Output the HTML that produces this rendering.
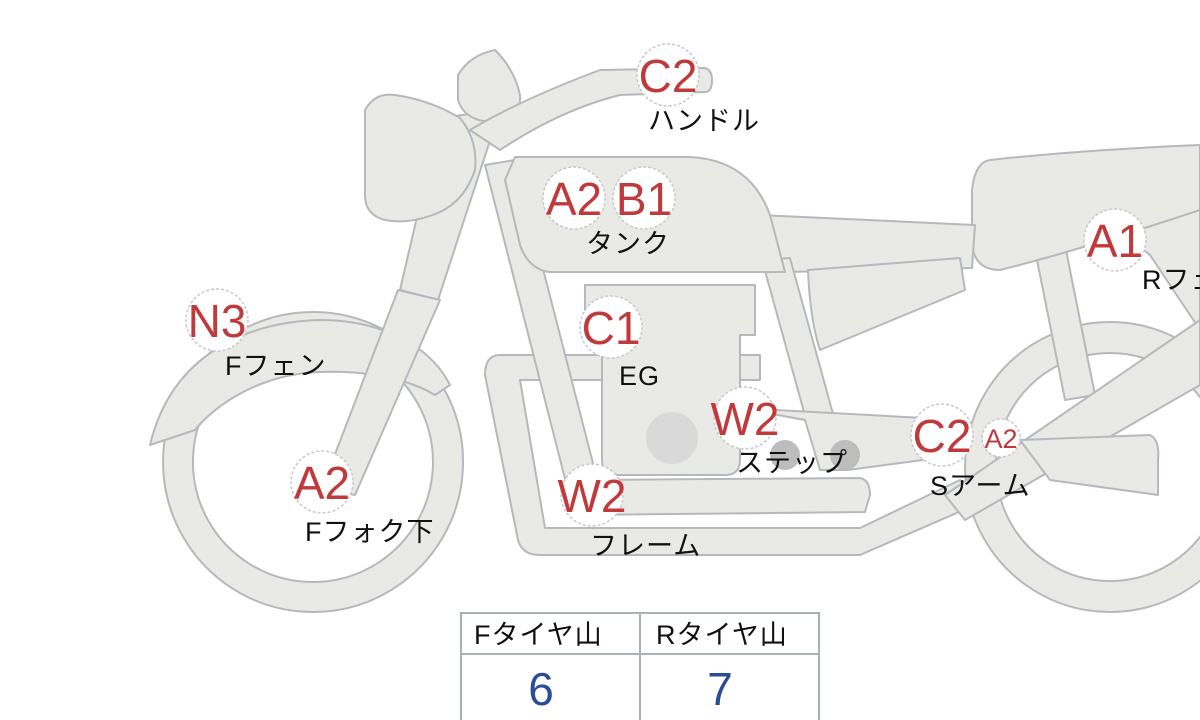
<!DOCTYPE html>
<html><head><meta charset="utf-8"><style>
html,body{margin:0;padding:0;background:#fff}
svg{display:block}
.s{fill:#e9e9e6;stroke:#b5b9bd;stroke-width:2;stroke-linejoin:round}
.c{fill:#fff;stroke:#c8c8c8;stroke-width:1.5;stroke-dasharray:3 2}
.r{fill:#c0393b;font-family:"Liberation Sans",sans-serif;font-size:46px;text-anchor:middle}
.k{fill:#111;font-family:"Liberation Sans","Noto Sans CJK JP",sans-serif;font-size:27px;letter-spacing:1px}
</style></head><body>
<svg width="1200" height="720" viewBox="0 0 1200 720">
<path class="s" fill-rule="evenodd" d="M1110,322a145,145 0 1,0 0.1,0zM1110,353a114,114 0 1,1 -0.1,0z"/>
<path class="s" fill-rule="evenodd" d="M313,312a150,150 0 1,0 0.1,0zM313,342a120,120 0 1,1 -0.1,0z"/>
<path class="s" d="M150,445 C170,360 240,322 320,320 C380,320 430,345 450,385 L435,395 C410,380 370,370 320,372 C260,374 215,405 195,430 Z"/>
<path class="s" d="M1035,250 L1065,245 L1095,395 L1065,400 Z"/>
<path class="s" d="M1100,215 L1200,185 L1200,330 L1150,255 Z"/>
<path class="s" d="M990,160 Q1080,150 1200,145 L1200,210 Q1080,250 1000,270 Q975,270 972,245 L972,190 Q975,162 990,160 Z"/>
<path class="s" d="M760,215 L975,225 L972,268 L785,272 Z"/>
<path class="s" d="M808,270 L960,258 L965,290 L820,350 Q810,320 808,270 Z"/>
<path class="s" d="M500,355 L760,355 L760,380 L520,380 L545,528 L860,528 L960,480 L975,505 L860,555 L540,555 Q522,555 518,540 L485,375 Q485,355 500,355 Z"/>
<path class="s" d="M575,480 L860,478 Q870,480 870,495 L865,512 L580,515 Z"/>
<path class="s" d="M762,260 L790,258 L848,468 L820,470 Z"/>
<path class="s" d="M740,408 L960,420 L960,455 L848,470 L820,470 L805,420 Z"/>
<path class="s" d="M945,495 L1200,320 L1200,385 L965,520 Z"/>
<path class="s" d="M1020,440 L1150,435 Q1160,440 1158,460 L1158,495 L1050,480 Z"/>
<path class="s" d="M585,285 L755,285 L755,335 L740,335 L740,460 Q740,475 725,475 L618,475 Q602,475 602,460 L602,335 L585,335 Z"/>
<circle cx="672" cy="438" r="26" fill="#d9d9d9"/>
<circle cx="785" cy="455" r="15" fill="#bdbdbd"/>
<circle cx="845" cy="455" r="15" fill="#bdbdbd"/>
<path class="s" d="M485,165 L515,160 L605,510 L575,518 Z"/>
<path class="s" d="M515,157 L690,157 Q750,160 770,215 L785,272 L548,272 Q528,268 520,245 L505,180 Z"/>
<path class="s" d="M440,118 L500,110 L438,300 L400,290 Z"/>
<path class="s" d="M398,290 L440,300 L355,495 L322,488 Z"/>
<path class="s" d="M365,110 Q375,92 395,95 Q430,100 460,118 Q478,140 475,170 Q465,200 440,212 Q410,225 385,220 Q365,215 365,195 Z"/>
<path class="s" d="M458,75 Q470,55 495,50 Q515,70 520,95 Q522,118 495,122 Q465,122 458,100 Z"/>
<path class="s" d="M470,130 Q520,100 600,70 L705,68 Q712,70 712,80 Q712,92 705,92 L620,95 Q560,110 500,150 Z"/>
<circle class="c" cx="668" cy="75" r="31"/><text class="r" x="668" y="92">C2</text>
<text class="k" x="648" y="130">ハンドル</text>
<circle class="c" cx="574" cy="198" r="31"/><text class="r" x="574" y="215">A2</text>
<circle class="c" cx="644" cy="198" r="31"/><text class="r" x="644" y="215">B1</text>
<text class="k" x="586" y="253">タンク</text>
<circle class="c" cx="217" cy="320" r="31"/><text class="r" x="217" y="337">N3</text>
<text class="k" x="225" y="375">Fフェン</text>
<circle class="c" cx="611" cy="327" r="31"/><text class="r" x="611" y="344">C1</text>
<text class="k" x="619" y="385">EG</text>
<circle class="c" cx="745" cy="418" r="31"/><text class="r" x="745" y="435">W2</text>
<text class="k" x="736" y="472">ステップ</text>
<circle class="c" cx="942" cy="435" r="31"/><text class="r" x="942" y="452">C2</text>
<circle class="c" cx="1001" cy="438" r="19"/><text class="r" x="1001" y="448" style="font-size:27px">A2</text>
<text class="k" x="930" y="495">Sアーム</text>
<circle class="c" cx="322" cy="482" r="31"/><text class="r" x="322" y="499">A2</text>
<text class="k" x="305" y="541">Fフォク下</text>
<circle class="c" cx="592" cy="495" r="31"/><text class="r" x="592" y="512">W2</text>
<text class="k" x="590" y="555">フレーム</text>
<circle class="c" cx="1115" cy="240" r="31"/><text class="r" x="1115" y="257">A1</text>
<text class="k" x="1142" y="289">Rフェン</text>
<rect x="461" y="613" width="358" height="110" fill="#fff" stroke="#a8b0b8" stroke-width="2"/>
<line x1="461" y1="654" x2="819" y2="654" stroke="#a8b0b8" stroke-width="2"/>
<line x1="640" y1="613" x2="640" y2="720" stroke="#a8b0b8" stroke-width="2"/>
<text class="k" x="474" y="644">Fタイヤ山</text>
<text class="k" x="656" y="644">Rタイヤ山</text>
<text x="541" y="705" fill="#2a4a9a" font-family="Liberation Sans,sans-serif" font-size="46" text-anchor="middle">6</text>
<text x="720" y="705" fill="#2a4a9a" font-family="Liberation Sans,sans-serif" font-size="46" text-anchor="middle">7</text>
</svg>
</body></html>
